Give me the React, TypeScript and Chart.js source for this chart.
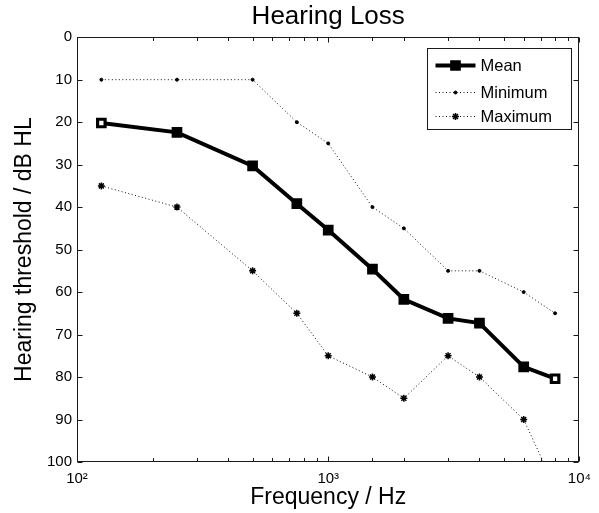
import React, { useEffect, useRef } from "react";
import { Chart, registerables } from "chart.js";
import { drawPoint } from "chart.js/helpers";

Chart.register(...registerables);

const chartTitle = "Hearing Loss";
const xAxisTitle = "Frequency / Hz";
const yAxisTitle = "Hearing threshold / dB HL";

const frequencies = [125, 250, 500, 750, 1000, 1500, 2000, 3000, 4000, 6000, 8000];
const meanThreshold = [20.2, 22.4, 30.3, 39.2, 45.4, 54.6, 61.7, 66.2, 67.3, 77.6, 80.4];
const minimumThreshold = [10, 10, 10, 20, 25, 40, 45, 55, 55, 60, 65];
const maximumThreshold = [35, 40, 55, 65, 75, 80, 85, 75, 80, 90, 106];
const seriesNames = ["Mean", "Minimum", "Maximum"];

const xMajorTicks = [100, 1000, 10000];
const xTickLabels = ["10²", "10³", "10⁴"];
const yTickValues = [0, 10, 20, 30, 40, 50, 60, 70, 80, 90, 100];

const FONT = "'Liberation Sans', Arial, Helvetica, sans-serif";

function majorIndex(v: number): number {
  for (let i = 0; i < xMajorTicks.length; i++) {
    if (Math.abs(v - xMajorTicks[i]) < 1e-6 * xMajorTicks[i]) return i;
  }
  return -1;
}

const frameAndLegend = {
  id: "frameAndLegend",
  afterDraw(chart: any) {
    const { ctx, chartArea: a, scales } = chart;
    const xs = scales.x;
    const ys = scales.y;
    const L = Math.round(a.left) + 0.5;
    const R = Math.round(a.right) - 0.5;
    const T = Math.round(a.top) + 0.5;
    const B = Math.round(a.bottom) - 0.5;
    ctx.save();
    ctx.strokeStyle = "#1a1a1a";
    ctx.lineWidth = 1;
    ctx.setLineDash([]);
    ctx.strokeRect(L, T, R - L, B - T);

    ctx.beginPath();
    for (const t of xs.ticks) {
      const px = Math.round(xs.getPixelForValue(t.value)) + 0.5;
      const len = majorIndex(t.value) >= 0 ? 5 : 3.5;
      ctx.moveTo(px, B);
      ctx.lineTo(px, B - len);
      ctx.moveTo(px, T);
      ctx.lineTo(px, T + len);
    }
    for (const t of ys.ticks) {
      const py = Math.round(ys.getPixelForValue(t.value)) + 0.5;
      ctx.moveTo(L, py);
      ctx.lineTo(L + 5, py);
      ctx.moveTo(R, py);
      ctx.lineTo(R - 5, py);
    }
    ctx.stroke();

    // legend
    const boxW = 144;
    const boxH = 81;
    const bx = Math.round(a.right - 8 - boxW) + 0.5;
    const by = Math.round(a.top + 11) + 0.5;
    ctx.fillStyle = "#ffffff";
    ctx.fillRect(bx, by, boxW, boxH);
    ctx.strokeStyle = "#1a1a1a";
    ctx.lineWidth = 1;
    ctx.strokeRect(bx, by, boxW, boxH);
    const rows = [17, 44, 68];
    chart.data.datasets.forEach((ds: any, i: number) => {
      const y = by + rows[i];
      ctx.save();
      ctx.strokeStyle = ds.borderColor;
      ctx.lineWidth = ds.borderWidth;
      ctx.setLineDash(ds.borderDash || []);
      ctx.beginPath();
      ctx.moveTo(bx + 8, y);
      ctx.lineTo(bx + 48, y);
      ctx.stroke();
      ctx.setLineDash([]);
      const bg = Array.isArray(ds.pointBackgroundColor) ? ds.pointBackgroundColor[1] : ds.pointBackgroundColor;
      ctx.strokeStyle = ds.pointBorderColor;
      ctx.fillStyle = bg;
      ctx.lineWidth = ds.pointBorderWidth;
      drawPoint(ctx, { pointStyle: ds.pointStyle, radius: ds.pointRadius, rotation: 0, borderWidth: ds.pointBorderWidth }, bx + 28, y);
      ctx.restore();
      ctx.fillStyle = "#000";
      ctx.font = `16.5px ${FONT}`;
      ctx.textBaseline = "middle";
      ctx.textAlign = "left";
      ctx.fillText(ds.label, bx + 53, y + 1);
    });
    ctx.restore();
  },
};

export default function App() {
  const canvasRef = useRef<HTMLCanvasElement | null>(null);

  useEffect(() => {
    if (!canvasRef.current) return;
    Chart.defaults.font.family = FONT;
    const toPoints = (ys: number[]) => frequencies.map((f, i) => ({ x: f, y: ys[i] }));
    const meanFill = meanThreshold.map((_, i) =>
      i === 0 || i === meanThreshold.length - 1 ? "#ffffff" : "#000000"
    );
    const chart = new Chart(canvasRef.current, {
      type: "line",
      data: {
        datasets: [
          {
            label: seriesNames[0],
            data: toPoints(meanThreshold),
            borderColor: "#000",
            borderWidth: 4,
            pointStyle: "rect",
            pointRadius: 5.3,
            pointBorderWidth: 3.2,
            pointBorderColor: "#000",
            pointBackgroundColor: meanFill,
            borderDash: [],
          },
          {
            label: seriesNames[1],
            data: toPoints(minimumThreshold),
            borderColor: "#111",
            borderWidth: 1,
            borderDash: [1, 2.5],
            pointStyle: "circle",
            pointRadius: 1.5,
            pointBorderWidth: 1,
            pointBorderColor: "#000",
            pointBackgroundColor: "#000",
          },
          {
            label: seriesNames[2],
            data: toPoints(maximumThreshold),
            borderColor: "#111",
            borderWidth: 1,
            borderDash: [1, 2.5],
            pointStyle: "star",
            pointRadius: 3.5,
            pointBorderWidth: 1.5,
            pointBorderColor: "#000",
            pointBackgroundColor: "#000",
          },
        ] as any,
      },
      options: {
        animation: false,
        responsive: false,
        devicePixelRatio: 1,
        layout: { padding: { left: 0, right: 15, top: 0, bottom: 0 } },
        plugins: {
          legend: { display: false },
          tooltip: { enabled: false },
          title: {
            display: true,
            fullSize: false,
            text: chartTitle,
            color: "#000",
            font: { size: 26, weight: "normal", family: FONT },
            padding: { top: 1, bottom: 5 },
          },
        },
        elements: { line: { tension: 0 } },
        scales: {
          x: {
            type: "logarithmic",
            min: 100,
            max: 10000,
            grid: { display: true, drawOnChartArea: false, drawTicks: false },
            border: { display: false },
            ticks: {
              autoSkip: false,
              maxRotation: 0,
              padding: 8,
              color: "#000",
              font: { size: 15, family: FONT },
              callback: (value: any) => {
                const i = majorIndex(Number(value));
                return i >= 0 ? xTickLabels[i] : "";
              },
            },
            title: {
              display: true,
              text: xAxisTitle,
              color: "#000",
              font: { size: 23, family: FONT },
              padding: { top: 0, bottom: 2 },
            },
            afterFit: (s: any) => {
              s.height = 51;
            },
          },
          y: {
            type: "linear",
            reverse: true,
            min: 0,
            max: 100,
            afterBuildTicks: (s: any) => {
              s.ticks = yTickValues.map((v) => ({ value: v }));
            },
            grid: { display: true, drawOnChartArea: false, drawTicks: false },
            border: { display: false },
            ticks: {
              padding: 5,
              color: "#000",
              font: { size: 15, family: FONT },
            },
            title: {
              display: true,
              text: yAxisTitle,
              color: "#000",
              font: { size: 23, family: FONT },
              padding: { top: 11, bottom: 0 },
            },
            afterFit: (s: any) => {
              s.width = 77;
            },
          },
        },
      } as any,
      plugins: [frameAndLegend],
    });
    return () => chart.destroy();
  }, []);

  return (
    <div style={{ position: "absolute", left: 0, top: 0, width: 599, height: 513, background: "#fff" }}>
      <canvas ref={canvasRef} width={599} height={513} />
    </div>
  );
}
